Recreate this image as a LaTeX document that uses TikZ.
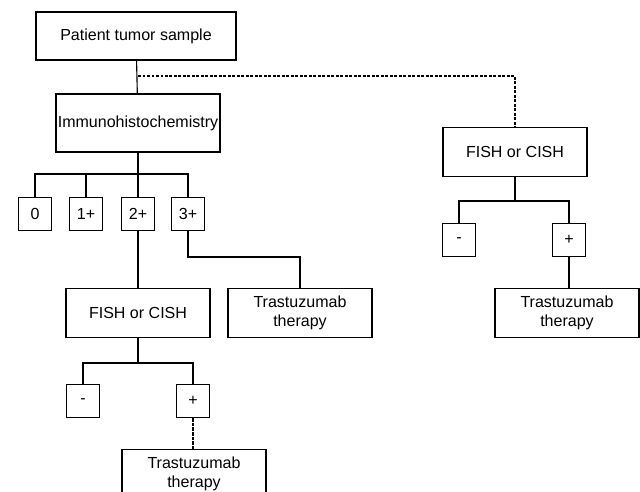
\documentclass[tikz,border=0pt]{standalone}
\usepackage{fontspec}
\setmainfont{Liberation Sans}
\usepackage{tikz}
\usetikzlibrary{positioning}
\tikzstyle{box} = [rectangle, draw, line width=0.8pt, align=center,
    inner sep=0pt, font=\fontsize{11.4}{13.5}\selectfont]
\tikzstyle{test} = [box, minimum width=3.6cm, minimum height=1.225cm]
\tikzstyle{score} = [box, minimum width=0.825cm, minimum height=0.825cm]
\tikzstyle{line} = [draw, line width=0.8pt]

\begin{document}
\begin{tikzpicture}[x=0.025cm, y=-0.025cm]
\clip (0,0) rectangle (640,492);
\fill[white] (0,0) rectangle (640,492);

% Top nodes
\node[box, minimum width=5cm, minimum height=1.2cm] (sample) at (136,36) {Patient tumor sample};
\node[box, minimum width=4.1cm, minimum height=1.45cm] (ihc) at (138,123) {Immunohistochemistry};
\coordinate (split) at (138,76);

% Scores
\node[score] (s0) at (35,214) {0};
\node[score] (s1) at (86,214) {1+};
\node[score] (s2) at (138,214) {2+};
\node[score] (s3) at (188,214) {3+};
\coordinate (bar) at (138,174);

% Left branch
\node[test] (fishL) at (138,313) {FISH or CISH};
\node[test] (trastA) at (300,313) {Trastuzumab\\therapy};
\coordinate (turn) at (300,257);
\node[score] (negL) at (83,401) {-};
\node[score] (posL) at (193,401) {+};
\coordinate (barL) at (138,363);
\node[test] (trastB) at (194,474) {Trastuzumab\\therapy};

% Right branch
\node[test] (fishR) at (515,152) {FISH or CISH};
\node[score] (negR) at (459,240) {-};
\node[score] (posR) at (569,240) {+};
\coordinate (barR) at (515,201);
\node[test] (trastC) at (567,313) {Trastuzumab\\therapy};

% Lines
\draw[line] (sample) -- (ihc);
\draw[line, dash pattern=on 2pt off 1.2pt] (split) -| (fishR);
\draw[line] (ihc) -- (bar);
\draw[line] (bar) -| (s0);
\draw[line] (bar) -| (s1);
\draw[line] (bar) -- (s2);
\draw[line] (bar) -| (s3);
\draw[line] (s2) -- (fishL);
\draw[line] (s3.south) |- (turn) -- (trastA.north);
\draw[line] (fishL) -- (barL);
\draw[line] (barL) -| (negL);
\draw[line] (barL) -| (posL);
\draw[line, dash pattern=on 2.5pt off 0.8pt] (posL) -- (posL |- trastB.north);
\draw[line] (fishR) -- (barR);
\draw[line] (barR) -| (negR);
\draw[line] (barR) -| (posR);
\draw[line, line width=1.2pt] (posR) -- (posR |- trastC.north);

\end{tikzpicture}
\end{document}
